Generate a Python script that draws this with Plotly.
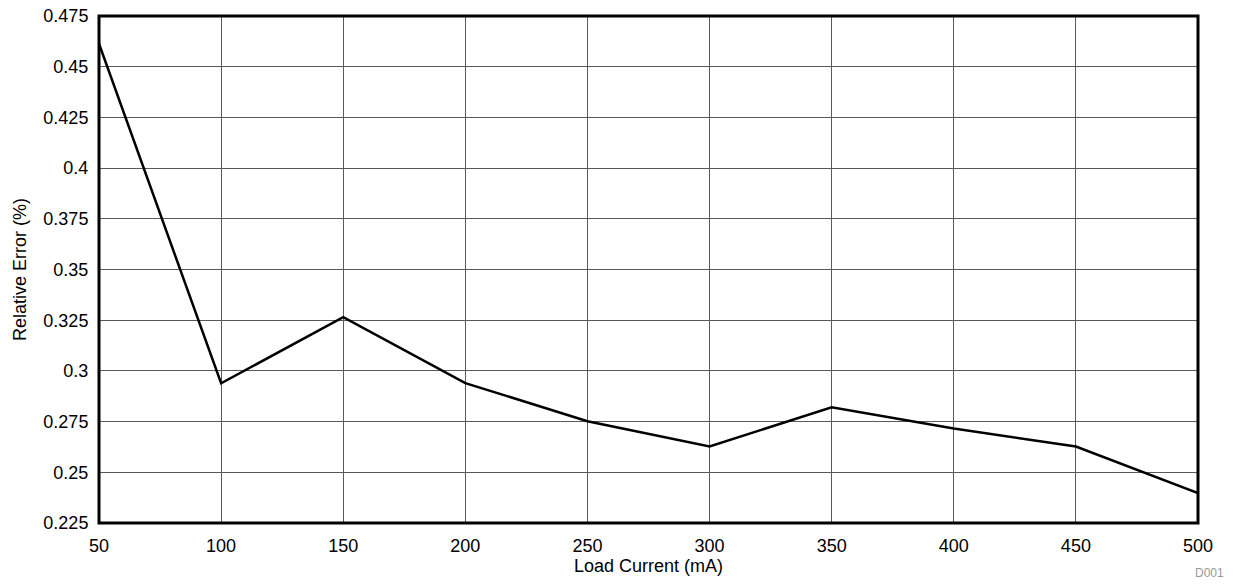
import plotly.graph_objects as go

load_current = [50, 100, 150, 200, 250, 300, 350, 400, 450, 500]
relative_error = [0.4613, 0.2939, 0.3265, 0.2940, 0.2752, 0.2627, 0.2821, 0.2716, 0.2627, 0.2397]

x_ticks = [50, 100, 150, 200, 250, 300, 350, 400, 450, 500]
y_ticks = [0.225, 0.25, 0.275, 0.3, 0.325, 0.35, 0.375, 0.4, 0.425, 0.45, 0.475]
y_tick_text = ["0.225", "0.25", "0.275", "0.3", "0.325", "0.35", "0.375", "0.4", "0.425", "0.45", "0.475"]

font_family = "Liberation Sans, Arial, sans-serif"

fig = go.Figure()
fig.add_trace(go.Scatter(
    x=load_current, y=relative_error, mode="lines",
    line=dict(color="black", width=2.5), showlegend=False,
))

fig.update_layout(
    width=1234, height=584,
    margin=dict(l=99, r=36, t=16, b=61, autoexpand=False),
    paper_bgcolor="white", plot_bgcolor="white",
    font=dict(family=font_family, color="black", size=18),
    xaxis=dict(
        range=[50, 500], tickvals=x_ticks, ticktext=[str(v) for v in x_ticks],
        showgrid=True, gridcolor="#5a5a5a", gridwidth=1, zeroline=False,
        ticks="outside", ticklen=6, tickcolor="rgba(0,0,0,0)", automargin=False,
        title=dict(text="Load Current (mA)", font=dict(size=18), standoff=4),
        tickfont=dict(size=18),
    ),
    yaxis=dict(
        range=[0.225, 0.475], tickvals=y_ticks, ticktext=y_tick_text,
        showgrid=True, gridcolor="#5a5a5a", gridwidth=1, zeroline=False,
        ticks="outside", ticklen=6, tickcolor="rgba(0,0,0,0)", automargin=False,
        title=dict(text="Relative Error (%)", font=dict(size=18), standoff=12),
        tickfont=dict(size=18),
    ),
    shapes=[dict(type="rect", xref="paper", yref="paper", x0=0, y0=0, x1=1, y1=1,
                 line=dict(color="black", width=3), fillcolor="rgba(0,0,0,0)")],
    annotations=[dict(text="D001", xref="paper", yref="paper", x=(1226 - 99) / 1099,
                      y=(523 - 573) / 507,
                      xanchor="right", yanchor="middle", showarrow=False,
                      font=dict(size=12, color="#999999"))],
)

fig.write_html("out.html")
